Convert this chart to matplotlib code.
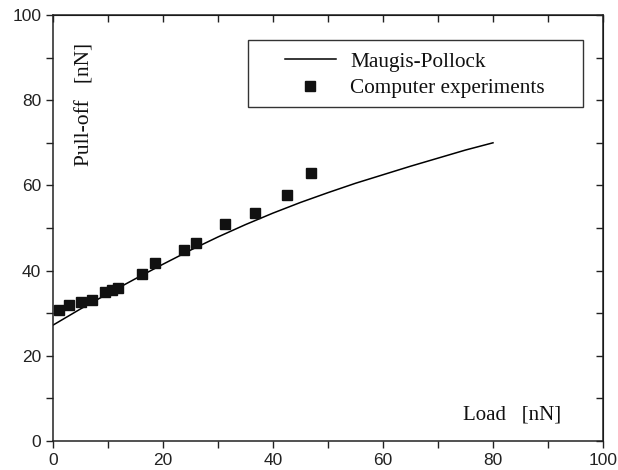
import matplotlib
matplotlib.use("Agg")
import matplotlib.pyplot as plt
from matplotlib.ticker import MultipleLocator
from matplotlib.patches import Rectangle

# Maugis-Pollock theory curve
theory_load = [0, 5, 10, 15, 20, 25, 30, 35, 40, 45, 50, 55, 60, 65, 70, 75, 80]
theory_pulloff = [27.2, 31.0, 34.6, 38.1, 41.5, 44.8, 47.9, 50.8, 53.5, 56.0,
                  58.3, 60.5, 62.5, 64.5, 66.4, 68.3, 70.0]

# Computer experiments
exp_load = [1.1, 2.9, 5.1, 7.1, 9.5, 10.8, 11.9, 16.2, 18.6, 23.9, 26.0,
            31.3, 36.7, 42.5, 46.9]
exp_pulloff = [30.7, 31.9, 32.6, 33.1, 35.0, 35.5, 35.9, 39.2, 41.7, 44.8,
               46.4, 50.9, 53.5, 57.7, 62.9]

x_ticks = [0, 20, 40, 60, 80, 100]
y_ticks = [0, 20, 40, 60, 80, 100]

serif = ["Liberation Serif", "DejaVu Serif"]
sans = ["Liberation Sans", "DejaVu Sans"]

fig = plt.figure(figsize=(6.18, 4.70), dpi=100)
ax = fig.add_axes([53 / 618, 1 - 441 / 470, 550 / 618, 426 / 470])

ax.plot(theory_load, theory_pulloff, color="black", lw=1.1,
        label="Maugis-Pollock")
ax.plot(exp_load, exp_pulloff, ls="none", marker="s", ms=7.3,
        color="#111111", label="Computer experiments")

ax.set_xlim(0, 100)
ax.set_ylim(0, 100)
ax.set_xticks(x_ticks)
ax.set_yticks(y_ticks)
ax.xaxis.set_minor_locator(MultipleLocator(10))
ax.yaxis.set_minor_locator(MultipleLocator(10))

for s in ax.spines.values():
    s.set_linewidth(1.1)
    s.set_color("#222222")

ax.tick_params(axis="both", which="both", length=5, width=1.0,
               color="#222222")
ax.tick_params(axis="x", which="both", direction="out", top=False)
ax.tick_params(axis="y", which="both", direction="out", right=False)
for lab in ax.get_xticklabels() + ax.get_yticklabels():
    lab.set_fontfamily(sans)
    lab.set_fontsize(12.5)
    lab.set_color("#222222")

# mirrored inward ticks on top and right
axt = ax.secondary_xaxis("top")
axt.set_xticks(x_ticks)
axt.xaxis.set_minor_locator(MultipleLocator(10))
axt.tick_params(axis="x", which="both", direction="in", length=5,
                width=1.0, labeltop=False, color="#222222")
axr = ax.secondary_yaxis("right")
axr.set_yticks(y_ticks)
axr.yaxis.set_minor_locator(MultipleLocator(10))
axr.tick_params(axis="y", which="both", direction="in", length=5,
                width=1.0, labelright=False, color="#222222")

# axis labels placed inside the axes
ax.text(0.058, 0.79, "Pull-off   [nN]", transform=ax.transAxes, rotation=90,
        ha="center", va="center", fontsize=15.5, family=serif,
        color="#111111")
ax.text(0.835, 0.061, "Load   [nN]", transform=ax.transAxes,
        ha="center", va="center", fontsize=15, family=serif, color="#111111")

# legend
leg = ax.legend(loc="upper left", bbox_to_anchor=(0.421, 0.913),
                frameon=False, prop={"family": serif, "size": 15.3},
                handlelength=2.4, handletextpad=0.7, labelspacing=0.3,
                borderpad=0, borderaxespad=0, numpoints=1)
for t in leg.get_texts():
    t.set_color("#111111")
ax.add_patch(Rectangle((0.3545, 0.784), 0.6091, 0.157,
                       transform=ax.transAxes, fill=False, lw=1.0,
                       edgecolor="#333333", zorder=5))

fig.savefig("out.png", dpi=100)
